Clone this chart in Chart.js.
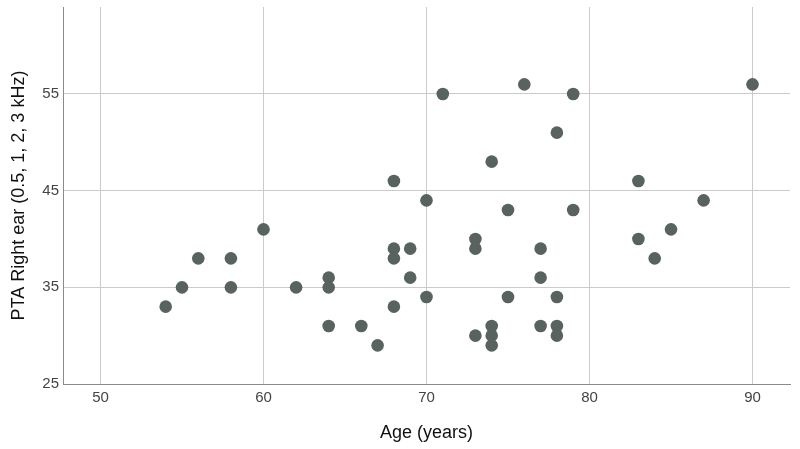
<!DOCTYPE html>
<html><head><meta charset="utf-8">
<script src="https://cdn.jsdelivr.net/npm/chart.js@4"></script>
<style>html,body{margin:0;padding:0;background:#fff;}canvas{display:block;}</style>
</head><body>
<canvas id="c" width="800" height="449"></canvas>
<script>
const ages = [54,55,56,58,58,60,62,64,64,64,66,67,68,68,68,68,69,69,70,70,71,73,73,73,74,74,74,74,75,75,76,77,77,77,78,78,78,78,79,79,83,83,84,85,87,90];
const pta  = [33,35,38,38,35,41,35,36,35,31,31,29,46,39,38,33,39,36,44,34,55,40,39,30,48,31,30,29,43,34,56,39,36,31,51,34,31,30,55,43,46,40,38,41,44,56];
const xTicks = [50,60,70,80,90];
const yTicks = [25,35,45,55];
const xTitle = 'Age (years)';
const yTitle = 'PTA Right ear (0.5, 1, 2, 3 kHz)';

const points = ages.map((a,i)=>({x:a,y:pta[i]}));
const fam = '"Liberation Sans", Arial, sans-serif';
const tickFont = {family:fam, size:15};
const titleFont = {family:fam, size:18};
new Chart(document.getElementById('c'), {
  type:'scatter',
  data:{datasets:[{data:points, backgroundColor:'#58625f', borderColor:'#58625f', pointRadius:6.3, pointHoverRadius:6.3, borderWidth:0}]},
  options:{
    responsive:false, animation:false,
    layout:{padding:{top:7,right:10,left:0,bottom:0}},
    plugins:{legend:{display:false}, tooltip:{enabled:false}},
    scales:{
      x:{type:'linear', min:47.7, max:92.3,
        afterBuildTicks:(s)=>{s.ticks = xTicks.map(v=>({value:v}));},
        afterFit:(s)=>{s.height = 65; s.paddingLeft = 0; s.paddingRight = 0;},
        grid:{color:'#cbcbcb', lineWidth:1, drawTicks:false},
        border:{color:'#8a8a8a', width:1},
        ticks:{color:'#444', font:tickFont, padding:5, maxRotation:0},
        title:{display:true, text:xTitle, color:'#111', font:titleFont, padding:{top:0,bottom:5}}
      },
      y:{type:'linear', min:25, max:64,
        afterBuildTicks:(s)=>{s.ticks = yTicks.map(v=>({value:v}));},
        afterFit:(s)=>{s.width = 63; s.paddingTop = 0; s.paddingBottom = 0;},
        grid:{color:'#cbcbcb', lineWidth:1, drawTicks:false},
        border:{color:'#8a8a8a', width:1},
        ticks:{color:'#444', font:tickFont, padding:4},
        title:{display:true, text:yTitle, color:'#111', font:titleFont, padding:{top:8,bottom:0}}
      }
    }
  }
});
</script>
</body></html>
